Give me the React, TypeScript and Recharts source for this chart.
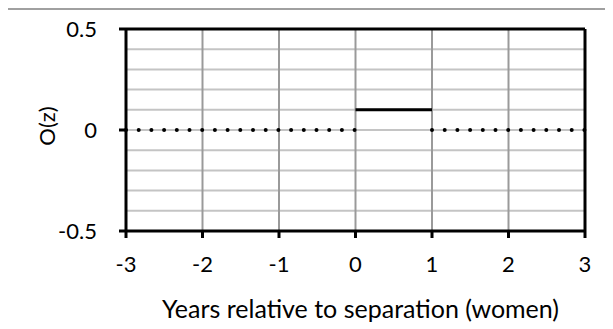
import React from 'react';
import {
  LineChart, Line, XAxis, YAxis, ReferenceLine, Label
} from 'recharts';

// x positions (years) and values of each piece of the step profile
const beforeYears = [-3, 0];
const beforeValues = [0, 0];
const duringYears = [0, 1];
const duringValues = [0.1, 0.1];
const afterYears = [1, 3];
const afterValues = [0, 0];

const xTicks = [-3, -2, -1, 0, 1, 2, 3];
const yTicks = [-0.5, 0, 0.5];
const minorY = [-0.4, -0.3, -0.2, -0.1, 0, 0.1, 0.2, 0.3, 0.4];
const gridX = [-2, -1, 0, 1, 2];

const xTitle = 'Years relative to separation (women)';
const yTitle = 'O(z)';

type Row = { x: number; before?: number; during?: number; after?: number };

const buildRows = (): Row[] => {
  const rows: Record<number, Row> = {};
  const put = (xs: number[], vs: number[], key: 'before' | 'during' | 'after') => {
    xs.forEach((x, i) => {
      rows[x] = rows[x] || { x };
      rows[x][key] = vs[i];
    });
  };
  put(beforeYears, beforeValues, 'before');
  put(duringYears, duringValues, 'during');
  put(afterYears, afterValues, 'after');
  return Object.values(rows).sort((a, b) => a.x - b.x);
};

const data = buildRows();

const font = 'Lato, "Open Sans", sans-serif';
const textColor = '#000000';

const App: React.FC = () => {
  return (
    <div style={{ position: 'relative', width: 613, height: 329, margin: '-8px 0 0 -8px', overflow: 'hidden', fontFamily: font }}>
      <div style={{ position: 'absolute', left: 6, top: 8, width: 700, height: 400, borderLeft: '2px solid #a0a0a0', borderTop: '2px solid #a0a0a0' }} />
      <div style={{ position: 'absolute', left: 0, top: 0 }}>
        <LineChart width={613} height={329} data={data} margin={{ top: 29, right: 28, bottom: 38, left: 6 }}>
          {minorY.map((v) => (
            <ReferenceLine key={`h${v}`} y={v} stroke="#c4c4c4" strokeWidth={2} />
          ))}
          {gridX.map((v) => (
            <ReferenceLine key={`v${v}`} x={v} stroke="#9a9a9a" strokeWidth={2} />
          ))}
          <ReferenceLine y={0.5} stroke="#000" strokeWidth={3} />
          <ReferenceLine x={3} stroke="#000" strokeWidth={3} />
          <XAxis
            dataKey="x"
            type="number"
            domain={[-3, 3]}
            ticks={xTicks}
            height={60}
            stroke="#000"
            strokeWidth={3}
            tickSize={7}
            tickMargin={18}
            tick={{ fill: textColor, fontSize: 22, fontFamily: font }}
          >
            <Label
              content={({ viewBox }: any) => (
                <text
                  x={viewBox.x + viewBox.width / 2 + 5}
                  y={viewBox.y + 77}
                  textAnchor="middle"
                  dominantBaseline="central"
                  fontSize={25}
                  fontFamily={font}
                  fill={textColor}
                >
                  {xTitle}
                </text>
              )}
            />
          </XAxis>
          <YAxis
            type="number"
            domain={[-0.5, 0.5]}
            ticks={yTicks}
            width={120}
            stroke="#000"
            strokeWidth={3}
            tickSize={7}
            tickMargin={22}
            tick={{ fill: textColor, fontSize: 22, fontFamily: font }}
          >
            <Label
              content={({ viewBox }: any) => {
                const cx = viewBox.x + 40;
                const cy = viewBox.y + viewBox.height / 2 - 4;
                return (
                  <text
                    x={cx}
                    y={cy}
                    transform={`rotate(-90, ${cx}, ${cy})`}
                    textAnchor="middle"
                    dominantBaseline="central"
                    fontSize={22}
                    fontFamily={font}
                    fill={textColor}
                  >
                    {yTitle}
                  </text>
                );
              }}
            />
          </YAxis>
          <Line
            dataKey="before"
            stroke="#000"
            strokeWidth={4}
            strokeDasharray="0 12.7"
            strokeLinecap="round"
            dot={false}
            activeDot={false}
            connectNulls={false}
            isAnimationActive={false}
          />
          <Line
            dataKey="after"
            stroke="#000"
            strokeWidth={4}
            strokeDasharray="0 12.7"
            strokeLinecap="round"
            dot={false}
            activeDot={false}
            connectNulls={false}
            isAnimationActive={false}
          />
          <Line
            dataKey="during"
            stroke="#000"
            strokeWidth={3}
            dot={false}
            activeDot={false}
            connectNulls={false}
            isAnimationActive={false}
          />
        </LineChart>
      </div>
    </div>
  );
};

export default App;
